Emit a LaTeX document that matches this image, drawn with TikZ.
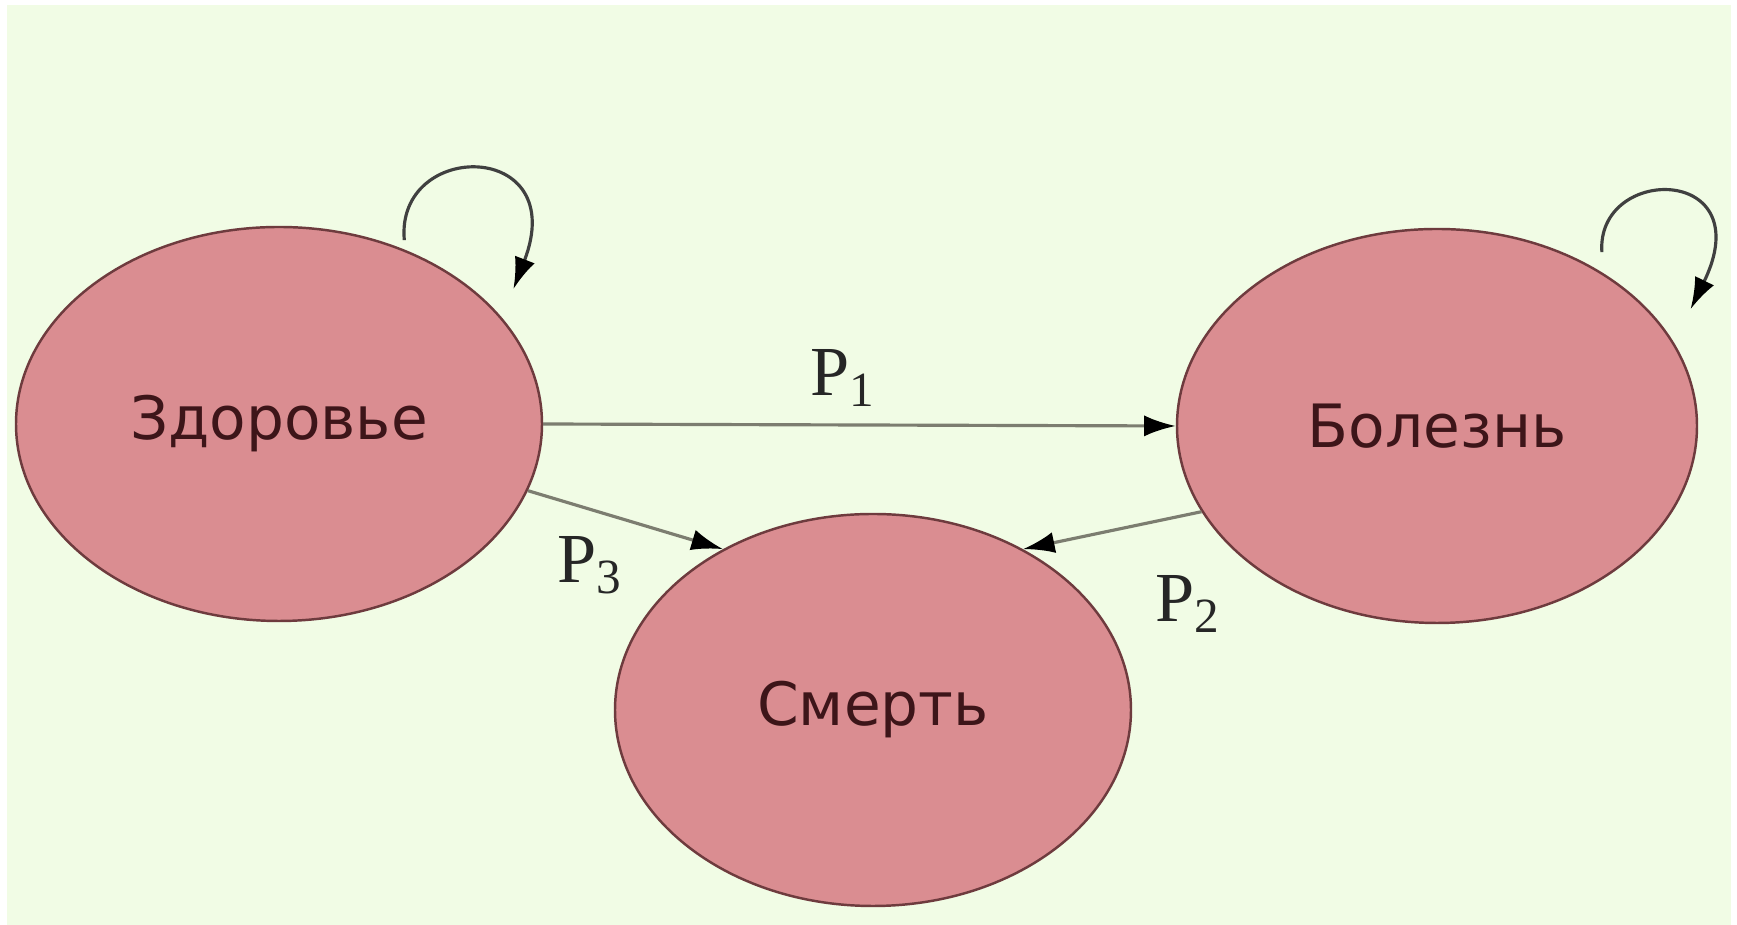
\documentclass[tikz,border=0pt]{standalone}
\usepackage{fontspec}
\usepackage{xcolor}
\usepackage{tikz}
\usetikzlibrary{positioning, arrows.meta, shapes.geometric}
\setmainfont{DejaVu Sans}
\newfontfamily\probfont{Liberation Serif}
\definecolor{mBack}{HTML}{F1FCE5}
\definecolor{mRose}{HTML}{DA8D91}
\definecolor{mEdge}{HTML}{6E3B3E}
\definecolor{mInk}{HTML}{3D1519}
\definecolor{mLine}{HTML}{7C7D70}

\begin{document}
\begin{tikzpicture}[>=Latex,
    state/.style={ellipse, draw=mEdge, fill=mRose, line width=0.7pt, minimum width=5.2cm,
      minimum height=3.94cm, font=\fontsize{17}{20}\selectfont, text=mInk},
    link/.style={-{Latex[length=9pt,width=6pt,color=black]}, mLine, line width=0.9pt},
    selfloop/.style={-{Latex[length=9pt,width=6pt,color=black]}, black!75, line width=0.9pt},
    prob/.style={font=\probfont\fontsize{20}{22}\selectfont, text=black!85}]
    \fill[white] (0,0) rectangle (17.37,-9.25);
    \fill[mBack] (0.07,-0.05) rectangle (17.31,-9.25);
    \useasboundingbox (0,0) rectangle (17.37,-9.25);
    % states
    \node[state, minimum width=5.26cm] (zdr) at (2.79,-4.24) {Здоровье};
    \node[state] (bol) at (14.37,-4.26) {Болезнь};
    \node[state, minimum width=5.16cm, minimum height=3.92cm] (smr) at (8.73,-7.10) {Смерть};
    % transitions
    \draw[link] (zdr.east) -- (bol.west);
    \draw[link] (zdr.-15) -- (smr.133);
    \draw[link] (bol.200) -- (smr.47);
    \draw[selfloop] ([shift={(0.06,0.07)}]zdr.56) .. controls +(-0.09,1.01) and +(0.58,1.5) .. ([shift={(0.25,0.14)}]zdr.30);
    \draw[selfloop] ([shift={(0.14,0.12)}]bol.47) .. controls +(-0.06,0.88) and +(0.71,1.45) .. ([shift={(0.31,0.13)}]bol.25);
    % probabilities
    \node[prob] (p1) at (8.43,-3.78) {P\textsubscript{1}};
    \node[prob] (p3) at (5.90,-5.65) {P\textsubscript{3}};
    \node[prob] (p2) at (11.88,-6.04) {P\textsubscript{2}};
\end{tikzpicture}
\end{document}
